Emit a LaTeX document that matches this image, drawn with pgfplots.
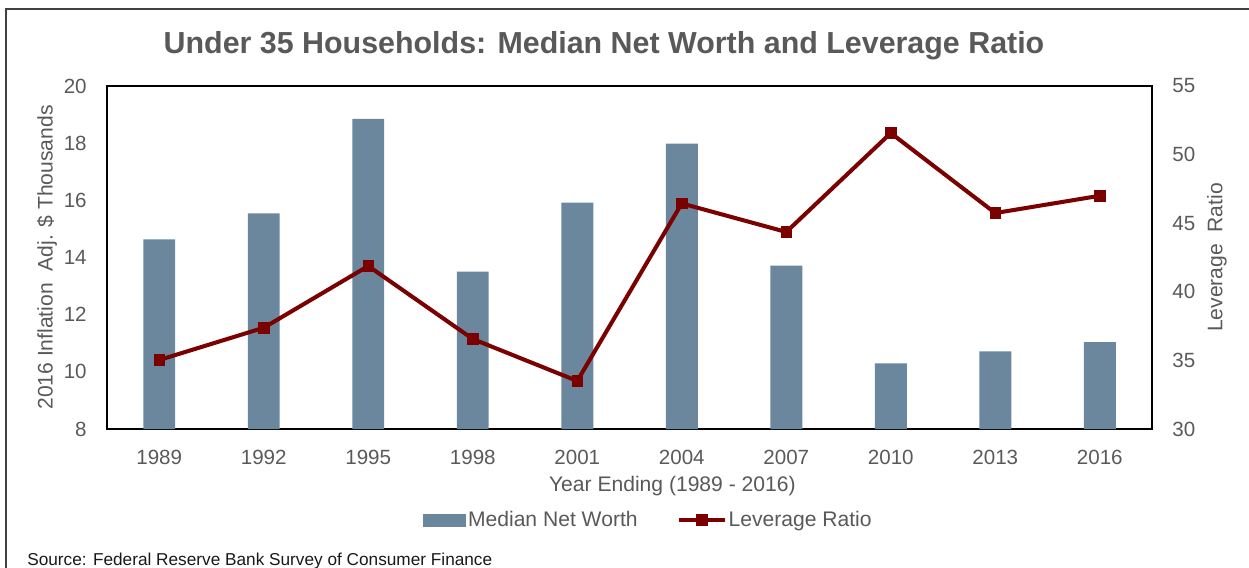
\documentclass[border=0pt]{standalone}
\usepackage{pgfplots}
\pgfplotsset{compat=1.18}
\usepackage{fontspec}
\setmainfont{Liberation Sans}
\definecolor{barcol}{HTML}{6A879E}
\definecolor{linecol}{HTML}{7B0000}
\definecolor{txt}{HTML}{595959}
\pgfplotsset{mylineleg/.style={legend image code/.code={\draw[mark repeat=2,mark phase=2,##1] plot coordinates {(0mm,0mm) (4.6mm,0mm) (9.2mm,0mm)};}}}
\begin{document}
\begin{tikzpicture}
\useasboundingbox (0,0) rectangle (24.98cm,11.34cm);
\draw[line width=0.4mm, color=black!75] (0.12cm,-1cm) -- (0.12cm,11.16cm) -- (27cm,11.16cm);
\node[font=\fontsize{17.3}{20}\selectfont\bfseries, text=txt] at (12.08cm,10.42cm) {Under 35 Households: Median Net Worth and Leverage Ratio};
\node[anchor=base west, font=\fontsize{9.8}{12}\selectfont, inner sep=0pt, text=black!90] at (0.54cm,0.03cm) {Source: Federal Reserve Bank Survey of Consumer Finance};
\begin{axis}[
  at={(2.14cm,2.76cm)}, anchor=south west, scale only axis,
  width=20.9cm, height=6.86cm,
  xmin=-0.5, xmax=9.5, ymin=8, ymax=20, ytick={8,10,...,20},
  xtick={0,...,9}, xticklabels={1989,1992,1995,1998,2001,2004,2007,2010,2013,2016},
  major tick length=0pt,
  axis line style={black, line width=0.75pt},
  tick label style={font=\fontsize{11.7}{13}\selectfont, text=txt, inner sep=0pt},
  /pgf/number format/assume math mode=true,
  yticklabel style={xshift=-4mm},
  xticklabel style={yshift=-4.2mm},
  label style={font=\fontsize{12}{14}\selectfont, text=txt},
  ylabel={2016 Inflation\ \ Adj. \$ Thousands},
  ylabel style={at={(axis description cs:-0.0574,0.5)}, anchor=center},
  xlabel={Year Ending (1989 - 2016)},
  xlabel style={at={(axis description cs:0.541,-0.166)}, anchor=center},
]
\addplot[ybar, bar width=0.306, fill=barcol, draw=none] coordinates {
(0,14.63) (1,15.54) (2,18.85) (3,13.51) (4,15.92) (5,17.98) (6,13.72) (7,10.30) (8,10.72) (9,11.04)};
\end{axis}
\begin{axis}[
  at={(2.14cm,2.76cm)}, anchor=south west, scale only axis,
  width=20.9cm, height=6.86cm,
  xmin=-0.5, xmax=9.5, ymin=30, ymax=55, ytick={30,35,...,55},
  axis y line*=right, axis x line=none,
  major tick length=0pt,
  axis line style={black, line width=0.75pt},
  tick label style={font=\fontsize{11.7}{13}\selectfont, text=txt, inner sep=0pt},
  /pgf/number format/assume math mode=true,
  yticklabel style={xshift=4mm},
  label style={font=\fontsize{12}{14}\selectfont, text=txt},
  ylabel={Leverage\ \ Ratio},
  ylabel style={at={(axis description cs:1.0622,0.5)}, anchor=center},
  legend style={at={(axis description cs:0.3024,-0.2653)}, anchor=west, draw=none, fill=none,
    font=\fontsize{12}{14}\selectfont, text=txt, inner sep=0pt,
    nodes={inner sep=0.4mm},
    /tikz/every even column/.append style={column sep=7.4mm}},
  legend columns=2, legend cell align=left,
]
\addlegendimage{legend image code/.code={\fill[barcol] (0mm,-1.2mm) rectangle (8.4mm,1.2mm);}}
\addlegendentry{Median Net Worth}
\addplot[linecol, line width=2.3pt, mark=square*, mark size=1.05mm, mark options={solid, line width=0.4pt}, mylineleg]
coordinates {
(0,35.03) (1,37.38) (2,41.88) (3,36.56) (4,33.50) (5,46.44) (6,44.36) (7,51.57) (8,45.74) (9,47.00)};
\addlegendentry{Leverage Ratio}
\end{axis}
\end{tikzpicture}
\end{document}
